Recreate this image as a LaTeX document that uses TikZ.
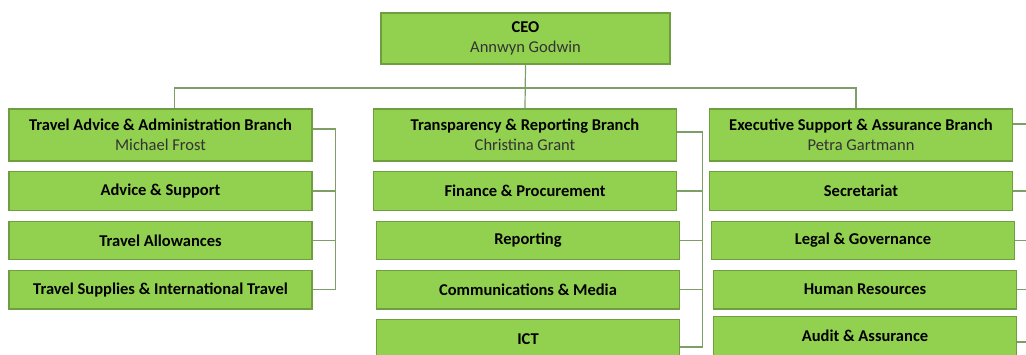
\documentclass[tikz,border=0pt]{standalone}
\usepackage{fontspec}
\setmainfont{Carlito}
\usetikzlibrary{positioning}

\definecolor{boxgreen}{HTML}{92D050}
\definecolor{edgegreen}{HTML}{6E9E40}
\definecolor{linegreen}{HTML}{7D9E66}
\definecolor{namegrey}{HTML}{333333}

\begin{document}
\begin{tikzpicture}[
    x = 1pt,
    y = -1pt,
    node distance = 9.6pt,
    head/.style={rectangle, draw=edgegreen, fill=boxgreen, line width=1.2pt, minimum width=303pt, minimum height=52pt, inner sep=0pt, align=center, font=\fontsize{16.5}{20}\selectfont},
    unit/.style={rectangle, draw=edgegreen, fill=boxgreen, line width=1.2pt, minimum width=303pt, minimum height=38.5pt, inner sep=0pt, font=\fontsize{16.5}{20}\selectfont\bfseries},
    link/.style={draw=linegreen, line width=1.2pt}
]
\clip (0,0) rectangle (1026,354);

% Top level
\node[head, minimum width=289pt, minimum height=51pt] (ceo) at (525.5,38.5) {\textbf{CEO}\\\textcolor{namegrey}{Annwyn Godwin}};

% Branch heads
\node[head] (tab) at (160.5,135) {\textbf{Travel Advice \& Administration Branch}\\\textcolor{namegrey}{Michael Frost}};
\node[head] (trb) at (525,135) {\textbf{Transparency \& Reporting Branch}\\\textcolor{namegrey}{Christina Grant}};
\node[head] (esab) at (861,135) {\textbf{Executive Support \& Assurance Branch}\\\textcolor{namegrey}{Petra Gartmann}};

% Units - left column
\node[unit] (advice) [below=of tab] {Advice \& Support};
\node[unit] (allow) [below=of advice] {Travel Allowances};
\node[unit] (supply) [below=of allow] {Travel Supplies \& International Travel};

% Units - middle column
\node[unit] (finance) [below=of trb] {Finance \& Procurement};
\node[unit] (report) [below=of finance, xshift=3pt] {Reporting};
\node[unit] (comms) [below=of report] {Communications \& Media};
\node[unit] (ict) [below=of comms] {ICT};

% Units - right column
\node[unit] (secr) [below=of esab] {Secretariat};
\node[unit] (legal) [below=of secr, xshift=2pt] {Legal \& Governance};
\node[unit] (hr) [below=of legal, xshift=2pt] {Human Resources};
\node[unit] (audit) [below=of hr, yshift=3pt] {Audit \& Assurance};

% CEO to branches
\coordinate (bus) at (525.5,88);
\draw[link] (ceo.south) -- (trb.north);
\draw[link] ([xshift=14pt]tab.north) |- (bus) -| ([xshift=-5pt]esab.north);

% Left column bus
\draw[link] ([yshift=6pt]tab.east) -- ++(23,0) coordinate (tabbus) |- (supply.east);
\draw[link] (advice.east) -- (advice.east -| tabbus);
\draw[link] (allow.east) -- (allow.east -| tabbus);

% Middle column bus
\draw[link] ([yshift=3pt]trb.east) -- ++(25,0) coordinate (trbbus) |- ([yshift=-8pt]ict.east);
\draw[link] (finance.east) -- (finance.east -| trbbus);
\draw[link] (report.east) -- (report.east -| trbbus);
\draw[link] (comms.east) -- (comms.east -| trbbus);

% Right column, running off the page
\draw[link] ([yshift=11pt]esab.east) -- ++(30,0);
\draw[link] (secr.east) -- ++(30,0);
\draw[link] (legal.east) -- ++(30,0);
\draw[link] (hr.east) -- ++(30,0);
\draw[link] ([yshift=-6pt]audit.east) -- ++(30,0);

\end{tikzpicture}
\end{document}
